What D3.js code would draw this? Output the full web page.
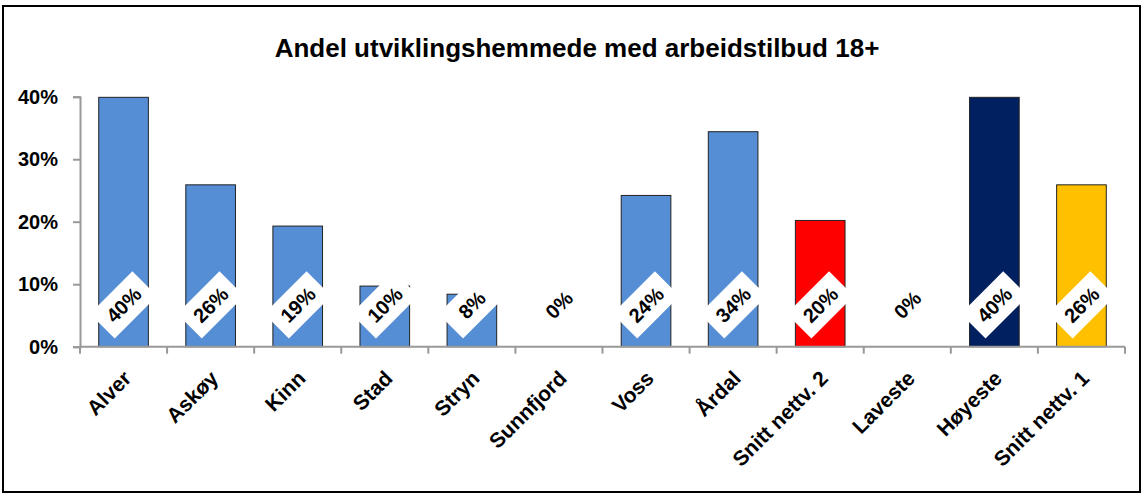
<!DOCTYPE html>
<html>
<meta charset="utf-8">
<script src="https://d3js.org/d3.v7.min.js"></script>
<style>
  body { margin: 0; background: #fff; }
  text { font-family: "Liberation Sans", Arial, sans-serif; font-weight: bold; }
</style>
<body>
<div id="chart"></div>
<script>
// data
var categories = ["Alver", "Askøy", "Kinn", "Stad", "Stryn", "Sunnfjord", "Voss", "Årdal",
                  "Snitt nettv. 2", "Laveste", "Høyeste", "Snitt nettv. 1"];
var values = [0.399, 0.259, 0.193, 0.097, 0.084, 0, 0.242, 0.344, 0.202, 0, 0.399, 0.259];
var barColors = ["#558ED5", "#558ED5", "#558ED5", "#558ED5", "#558ED5", "#558ED5", "#558ED5", "#558ED5",
                 "#FF0000", "#558ED5", "#002060", "#FFC000"];
var yTicks = [0, 0.1, 0.2, 0.3, 0.4];
var title = "Andel utviklingshemmede med arbeidstilbud 18+";

var W = 1144, H = 495;
var margin = {top: 96.7, right: 19, bottom: 148.3, left: 80};
var width = W - margin.left - margin.right,
    height = H - margin.top - margin.bottom;

var svg = d3.select("#chart").append("svg")
    .attr("width", W)
    .attr("height", H);

// outer frame
svg.append("rect")
    .attr("x", 3).attr("y", 6)
    .attr("width", 1137).attr("height", 486)
    .attr("fill", "none")
    .attr("stroke", "#000")
    .attr("stroke-width", 2);

svg.append("text")
    .attr("x", 577)
    .attr("y", 57)
    .attr("text-anchor", "middle")
    .style("font-size", "26px")
    .text(title);

var g = svg.append("g")
    .attr("transform", "translate(" + margin.left + "," + margin.top + ")");

var x = d3.scaleBand()
    .domain(categories)
    .range([0, width])
    .paddingInner(0.43)
    .paddingOuter(0.215);

var y = d3.scaleLinear()
    .domain([0, 0.4])
    .range([height, 0]);

// bars
g.selectAll("rect.bar")
  .data(values)
  .enter().append("rect")
    .attr("class", "bar")
    .attr("x", function(d, i) { return x(categories[i]); })
    .attr("y", function(d) { return y(d); })
    .attr("width", x.bandwidth())
    .attr("height", function(d) { return height - y(d); })
    .attr("fill", function(d, i) { return barColors[i]; })
    .attr("stroke", function(d) { return d > 0 ? "#222" : "none"; })
    .attr("stroke-width", 1);

// y axis
var yAxis = g.append("g")
    .call(d3.axisLeft(y).tickValues(yTicks).tickFormat(d3.format(".0%")).tickSize(7).tickPadding(15));
yAxis.select(".domain").attr("stroke", "#999").attr("stroke-width", 2);
yAxis.selectAll(".tick line").attr("stroke", "#999").attr("stroke-width", 2);
yAxis.selectAll(".tick text")
    .attr("fill", "#000")
    .style("font-size", "20px")
    .style("font-family", "Liberation Sans, Arial, sans-serif")
    .style("font-weight", "bold");

// x axis line with ticks on slot boundaries
var xAxis = g.append("g").attr("transform", "translate(0," + height + ")");
xAxis.append("line")
    .attr("x1", 0).attr("x2", width)
    .attr("stroke", "#999").attr("stroke-width", 2);
xAxis.selectAll("line.tk")
  .data(d3.range(categories.length + 1))
  .enter().append("line")
    .attr("class", "tk")
    .attr("x1", function(d) { return d * width / categories.length; })
    .attr("x2", function(d) { return d * width / categories.length; })
    .attr("y1", 0).attr("y2", 7)
    .attr("stroke", "#999").attr("stroke-width", 2);

xAxis.selectAll("text.cat")
  .data(categories)
  .enter().append("text")
    .attr("class", "cat")
    .attr("text-anchor", "end")
    .attr("transform", function(d) {
      return "translate(" + (x(d) + x.bandwidth() / 2 + 9) + ",33) rotate(-45)";
    })
    .style("font-size", "21px")
    .text(function(d) { return d; });

// data labels: white rotated boxes near the base
var labY = y(0.067);
var labels = g.selectAll("g.lab")
  .data(values)
  .enter().append("g")
    .attr("class", "lab")
    .attr("transform", function(d, i) {
      return "translate(" + (x(categories[i]) + x.bandwidth() / 2) + "," + labY + ") rotate(-45)";
    });
labels.append("rect")
    .attr("x", -30).attr("y", -17.5)
    .attr("width", 60).attr("height", 35)
    .attr("fill", "#fff");
labels.append("text")
    .attr("text-anchor", "middle")
    .attr("dy", "0.36em")
    .style("font-size", "20px")
    .text(function(d) { return Math.round(d * 100) + "%"; });
</script>
</body>
</html>
